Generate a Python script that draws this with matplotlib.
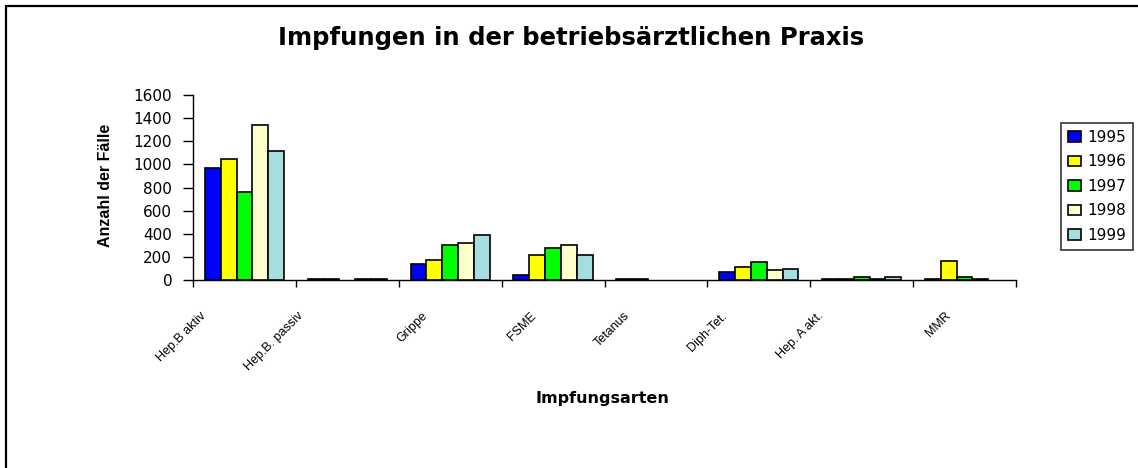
import matplotlib
matplotlib.use("Agg")
import matplotlib.pyplot as plt
import numpy as np
from matplotlib.patches import Rectangle
from matplotlib.transforms import offset_copy

plt.rcParams['font.family'] = ['Liberation Sans', 'DejaVu Sans']

categories = ["Hep.B aktiv", "Hep.B. passiv", "Grippe", "FSME", "Tetanus",
              "Diph-Tet.", "Hep. A akt.", "MMR"]
years = ["1995", "1996", "1997", "1998", "1999"]
v1995 = [966, 8, 138, 40, 8, 72, 8, 8]
v1996 = [1049, 8, 176, 219, 8, 109, 8, 164]
v1997 = [758, 0, 303, 274, 0, 153, 29, 29]
v1998 = [1340, 8, 317, 305, 0, 84, 8, 8]
v1999 = [1118, 8, 386, 219, 0, 95, 29, 0]
series = [v1995, v1996, v1997, v1998, v1999]
colors = ["#0000FF", "#FFFF00", "#00FF00", "#FFFFCC", "#A6DEE0"]
yticks = [0, 200, 400, 600, 800, 1000, 1200, 1400, 1600]

W, H = 1138, 468
fig = plt.figure(figsize=(W / 100, H / 100), dpi=100)
fig.patch.set_facecolor("white")

# outer chart frame (only top/left visible in the image)
fig.add_artist(Rectangle((6 / W, -0.2), 1.2, 1.2 - 6 / H, transform=fig.transFigure,
                         fill=False, edgecolor="black", linewidth=1.6))

ax = fig.add_axes([193 / W, 1 - 280 / H, (1016 - 193) / W, (280 - 95) / H])
ax.set_facecolor("white")

n = len(categories)
x = np.arange(n) + 0.5
bw = 1 / 6.5
for j, (vals, col, yr) in enumerate(zip(series, colors, years)):
    bars = ax.bar(x + (j - 2) * bw, vals, width=bw, color=col, edgecolor="black",
                  linewidth=1.2, label=yr, zorder=3)
    for b, v in zip(bars, vals):
        if v == 0:
            b.set_visible(False)

ax.set_xlim(0, n)
ax.set_ylim(0, 1600)
ax.set_yticks(yticks)
ax.set_yticklabels([str(t) for t in yticks], fontsize=11, family="DejaVu Sans")
ax.set_xticks(np.arange(n + 1))
ax.set_xticklabels([])
ax.tick_params(axis="y", direction="out", length=7, width=1, pad=8)
ax.tick_params(axis="x", direction="out", length=5, width=1)
for s in ["top", "right"]:
    ax.spines[s].set_visible(False)
for s in ["left", "bottom"]:
    ax.spines[s].set_linewidth(1)
    ax.spines[s].set_color("black")

# rotated category labels
for xi, lab in zip(x, categories):
    tr = offset_copy(ax.get_xaxis_transform(), fig=fig,
                     x=-(11 + 3 * len(lab)) * 0.72, y=-30 * 0.72, units="points")
    ax.text(xi, 0, lab, transform=tr, rotation=45, rotation_mode="anchor",
            ha="right", va="top", fontsize=9, clip_on=False)

fig.text(571 / W, 1 - 38 / H, "Impfungen in der betriebsärztlichen Praxis",
         ha="center", va="center", fontsize=17.5, fontweight="bold",
         family="DejaVu Sans")
fig.text(602 / W, 1 - 398 / H, "Impfungsarten", ha="center", va="center",
         fontsize=11.5, fontweight="bold", family="DejaVu Sans")
fig.text(105 / W, 1 - 185 / H, "Anzahl der Fälle", ha="center", va="center",
         rotation=90, fontsize=11.5, fontweight="bold")

leg = ax.legend(loc="upper left", bbox_to_anchor=(1061 / W, 1 - 123 / H),
                bbox_transform=fig.transFigure, borderaxespad=0, frameon=True,
                fancybox=False, shadow=False, handlelength=0.85,
                handleheight=0.7, handletextpad=0.45, labelspacing=0.62,
                borderpad=0.45, prop={"family": "DejaVu Sans", "size": 11})
leg.get_frame().set_edgecolor("black")
leg.get_frame().set_linewidth(1.2)

fig.savefig("out.png", dpi=100, facecolor="white")
